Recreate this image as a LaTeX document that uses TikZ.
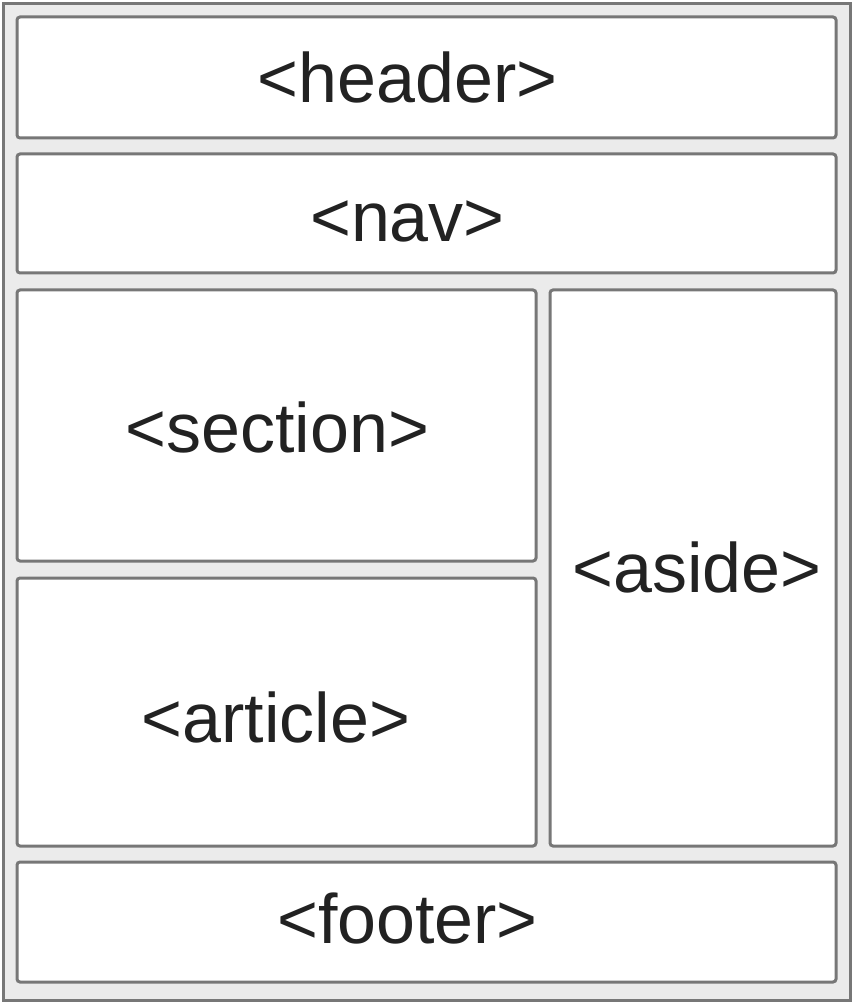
\documentclass[tikz,border=0pt]{standalone}
\usepackage{fontspec}
\setmainfont{Liberation Sans}
\definecolor{boxline}{HTML}{777777}
\definecolor{pagebg}{HTML}{EBEBEB}
\definecolor{labeltext}{HTML}{222222}
\begin{document}
\begin{tikzpicture}[x=0.5pt, y=-0.5pt,
    block/.style={draw=boxline, line width=1.5pt, fill=white, rounded corners=1.5pt, inner sep=0pt},
    tag/.style={anchor=base, inner sep=0pt, text=labeltext, font=\fontsize{35}{42}\selectfont}]
    \useasboundingbox (0,0) rectangle (854,1004);

    % Outer frame
    \draw[draw=boxline, fill=pagebg, line width=1.5pt] (3.5,3.5) rectangle (850.5,1000.5);

    % Define the positions of the boxes
    \node[block, minimum width=409.5pt, minimum height=60.5pt] (header) at (426.5,77.5) {};
    \node[block, minimum width=409.5pt, minimum height=59.5pt] (nav) at (426.5,213.5) {};
    \node[block, minimum width=259.5pt, minimum height=135.5pt] (section) at (276.5,425.5) {};
    \node[block, minimum width=259.5pt, minimum height=134pt] (article) at (276.5,712) {};
    \node[block, minimum width=143pt, minimum height=278pt] (aside) at (693,568) {};
    \node[block, minimum width=409.5pt, minimum height=60pt] (footer) at (426.5,922) {};

    % The tag names
    \node[tag] (headertag) at (407.5,103) {<header>};
    \node[tag] (navtag) at (407.5,242) {<nav>};
    \node[tag] (sectiontag) at (277.5,452) {<section>};
    \node[tag] (articletag) at (276,742) {<article>};
    \node[tag] (asidetag) at (697,592) {<aside>};
    \node[tag] (footertag) at (407.5,943) {<footer>};
\end{tikzpicture}
\end{document}
